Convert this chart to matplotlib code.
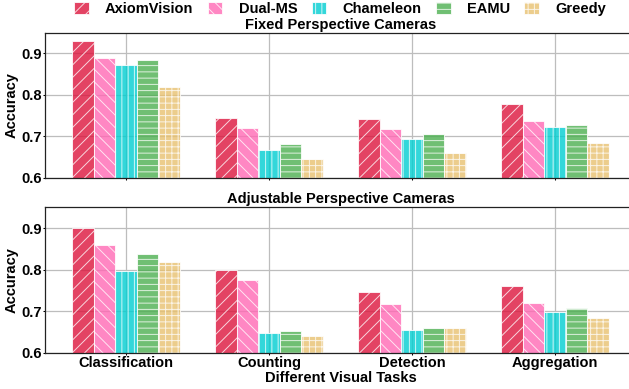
import matplotlib
matplotlib.use('Agg')
import matplotlib.pyplot as plt
import matplotlib.patches as mpatches
import numpy as np

categories = ['Classification', 'Counting', 'Detection', 'Aggregation']
methods = ['AxiomVision', 'Dual-MS', 'Chameleon', 'EAMU', 'Greedy']

fixed_axiomvision = [0.931, 0.743, 0.741, 0.779]
fixed_dualms = [0.890, 0.721, 0.717, 0.738]
fixed_chameleon = [0.871, 0.668, 0.693, 0.723]
fixed_eamu = [0.883, 0.681, 0.705, 0.726]
fixed_greedy = [0.818, 0.644, 0.659, 0.683]

adj_axiomvision = [0.901, 0.800, 0.746, 0.760]
adj_dualms = [0.859, 0.775, 0.717, 0.719]
adj_chameleon = [0.796, 0.647, 0.655, 0.699]
adj_eamu = [0.839, 0.652, 0.659, 0.709]
adj_greedy = [0.818, 0.642, 0.660, 0.683]

panel_titles = ['Fixed Perspective Cameras', 'Adjustable Perspective Cameras']
y_ticks = [0.6, 0.7, 0.8, 0.9]

colors = ['#dc143c', '#ff69b4', '#00ced1', '#4caf50', '#e8c170']
hatches = ['//', '\\\\', '||', '--', '++']
ALPHA = 0.8

plt.rcParams['font.family'] = ['Liberation Sans', 'DejaVu Sans']
plt.rcParams['font.weight'] = 'bold'
plt.rcParams['font.size'] = 14
plt.rcParams['hatch.color'] = 'white'
plt.rcParams['hatch.linewidth'] = 0.9

DPI = 75
fig = plt.figure(figsize=(629 / DPI, 389 / DPI), dpi=DPI)

ax_top = fig.add_axes([45 / 629, 1 - 177.7 / 389, 591 / 629, 145 / 389])
ax_bot = fig.add_axes([45 / 629, 1 - 353 / 389, 591 / 629, 145.7 / 389])

panels = [
    (ax_top, [fixed_axiomvision, fixed_dualms, fixed_chameleon, fixed_eamu, fixed_greedy]),
    (ax_bot, [adj_axiomvision, adj_dualms, adj_chameleon, adj_eamu, adj_greedy]),
]

x = np.arange(len(categories))
w = 0.15
for pi, (ax, series) in enumerate(panels):
    ax.set_axisbelow(True)
    for i, vals in enumerate(series):
        ax.bar(x + (i - 2) * w, vals, width=w, color=colors[i], alpha=ALPHA,
               edgecolor='white', linewidth=1.0, hatch=hatches[i], label=methods[i])
    ax.set_ylim(0.6, 0.95)
    ax.set_xlim(-0.566, 3.566)
    ax.set_yticks(y_ticks)
    ax.set_yticklabels([f'{v:.1f}' for v in y_ticks])
    ax.set_xticks(x)
    ax.grid(True, color='#bdbdbd', linewidth=1.2)
    ax.tick_params(axis='both', length=1.5, width=1, pad=1.8)
    for s in ['left', 'top', 'bottom']:
        ax.spines[s].set_color('#222222')
        ax.spines[s].set_linewidth(1.2)
    ax.spines['right'].set_visible(False)
    ax.set_ylabel('Accuracy', fontweight='bold')
    ax.yaxis.set_label_coords((19 - 45) / 591, 0.5)
    ax.set_title(panel_titles[pi], fontweight='bold', pad=4, fontsize=14)

ax_top.set_xticklabels([])
ax_bot.set_xticklabels(categories, fontweight='bold')
ax_bot.set_xlabel('Different Visual Tasks', fontweight='bold')
ax_bot.xaxis.set_label_coords(0.5, -(371 - 353) / 145.7)

handles = [mpatches.Patch(facecolor=colors[i], alpha=ALPHA, edgecolor='white',
                          hatch=hatches[i], label=methods[i]) for i in range(5)]
fig.legend(handles=handles, loc='center', bbox_to_anchor=(340 / 629, 1 - 9 / 389),
           ncol=5, frameon=False, handlelength=1.0, handleheight=0.8,
           handletextpad=1.1, columnspacing=1.0, prop={'weight': 'bold', 'size': 14})

fig.savefig('out.png', dpi=DPI)
